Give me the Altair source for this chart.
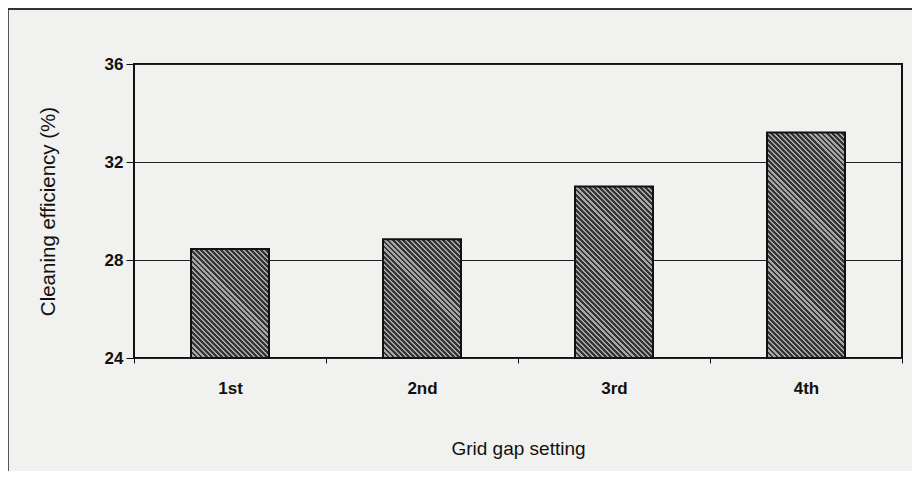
import math
import altair as alt
import pandas as pd

settings = ["1st", "2nd", "3rd", "4th"]
efficiency = [28.45, 28.85, 31.0, 33.2]
y_ticks = [24, 28, 32, 36]

df = pd.DataFrame({"setting": settings, "eff": efficiency})

BG = "#f1f1ef"
FONT = "Liberation Sans"
W, H = 768, 294
Y0, Y1 = 24, 36
BAR_W = 78


def hatch(value, period=3.6, dark="#353535", light="#a6a6a6", frac=0.57):
    """Diagonal '\\' hatching as a striped linear gradient for one bar."""
    w = BAR_W
    h = max((value - Y0) / (Y1 - Y0) * H, 1)
    s = (w + h) / (w * w + h * h)
    n = max(int(round((w + h) / (math.sqrt(2) * period))), 1)
    stops = []
    for k in range(n):
        a = k / n
        b = (k + frac) / n
        c = (k + 1) / n
        stops += [
            alt.GradientStop(offset=a, color=dark),
            alt.GradientStop(offset=b, color=dark),
            alt.GradientStop(offset=b, color=light),
            alt.GradientStop(offset=c, color=light),
        ]
    return alt.LinearGradient(
        gradient="linear", stops=stops, x1=0, y1=1, x2=s * w, y2=1 - s * h
    )


x_enc = alt.X(
    "setting:N",
    sort=settings,
    scale=alt.Scale(paddingInner=0, paddingOuter=0),
    axis=alt.Axis(
        title="Grid gap setting",
        labelAngle=0,
        tickBand="extent",
        tickSize=5,
        tickColor="#111",
        domain=False,
        labelPadding=17,
        labelFontSize=17,
        labelFontWeight="bold",
        labelFont=FONT,
        labelColor="#111",
        titleFont=FONT,
        titleFontSize=19,
        titleFontWeight="normal",
        titleColor="#111",
        titlePadding=43,
        grid=False,
    ),
)

y_enc = alt.Y(
    "eff:Q",
    scale=alt.Scale(domain=[Y0, Y1], nice=False, zero=False),
    axis=alt.Axis(
        title="Cleaning efficiency (%)",
        values=y_ticks,
        tickSize=8,
        tickColor="#111",
        domain=False,
        labelPadding=3,
        labelFontSize=17,
        labelFontWeight="bold",
        labelFont=FONT,
        labelColor="#111",
        titleFont=FONT,
        titleFontSize=20.5,
        titleFontWeight="normal",
        titleColor="#111",
        titlePadding=46,
        grid=True,
        gridColor="#222",
        gridWidth=1,
        gridOpacity=1,
    ),
)

layers = []
for name, val in zip(settings, efficiency):
    layers.append(
        alt.Chart(df)
        .transform_filter(alt.datum.setting == name)
        .mark_bar(size=BAR_W, fill=hatch(val), stroke="#111", strokeWidth=2)
        .encode(x=x_enc, y=y_enc, y2=alt.datum(Y0))
    )

edge = alt.Data(values=[{"a": 1}])
top_line = alt.Chart(edge).mark_rule(color="#333", strokeWidth=2, clip=False).encode(
    x=alt.value(-126), x2=alt.value(800), y=alt.value(-55)
)
left_line = alt.Chart(edge).mark_rule(color="#222", strokeWidth=1.5, clip=False).encode(
    x=alt.value(-126), y=alt.value(-55), y2=alt.value(480)
)

chart = alt.layer(*layers, top_line, left_line).properties(
    width=W,
    height=H,
    background=BG,
    padding={"left": 126, "top": 56, "right": 10, "bottom": 113},
    autosize=alt.AutoSizeParams(type="none"),
).configure_view(
    stroke="#111", strokeWidth=2, fill=BG
)

chart.save("out.html", embed_options={"renderer": "svg", "actions": False})
